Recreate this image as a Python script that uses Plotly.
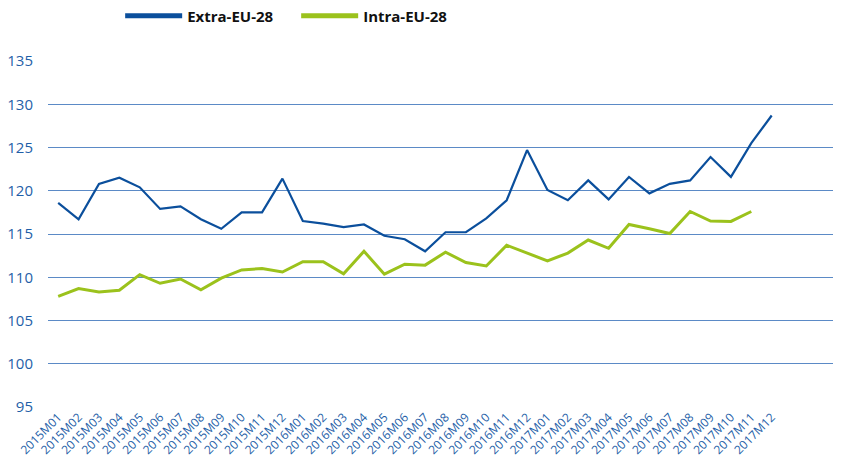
import plotly.graph_objects as go

months = [f"{y}M{m:02d}" for y in (2015, 2016, 2017) for m in range(1, 13)]

extra_eu = [118.6, 116.7, 120.8, 121.5, 120.4, 117.9, 118.2, 116.7, 115.6, 117.5,
            117.5, 121.4, 116.5, 116.2, 115.8, 116.1, 114.8, 114.4, 113.0, 115.2,
            115.2, 116.8, 118.9, 124.7, 120.1, 118.9, 121.2, 119.0, 121.6, 119.7,
            120.8, 121.2, 123.9, 121.6, 125.5, 128.7]

intra_eu = [107.8, 108.7, 108.3, 108.5, 110.3, 109.3, 109.8, 108.55, 109.9, 110.85,
            111.0, 110.6, 111.8, 111.8, 110.4, 113.0, 110.35, 111.5, 111.4, 112.9,
            111.7, 111.3, 113.7, 112.8, 111.9, 112.8, 114.3, 113.35, 116.1, 115.6,
            115.05, 117.6, 116.5, 116.45, 117.6]

blue = "#0b4f9c"
green = "#9bc21c"

fig = go.Figure()
fig.add_trace(go.Scatter(x=months, y=extra_eu, mode="lines", showlegend=False,
                         line=dict(color=blue, width=2.2)))
fig.add_trace(go.Scatter(x=months[:len(intra_eu)], y=intra_eu, mode="lines", showlegend=False,
                         line=dict(color=green, width=3)))
# legend-only entries with thicker line samples
fig.add_trace(go.Scatter(x=[months[0]], y=[None], mode="lines", name="Extra-EU-28",
                         line=dict(color=blue, width=5)))
fig.add_trace(go.Scatter(x=[months[0]], y=[None], mode="lines", name="Intra-EU-28",
                         line=dict(color=green, width=5)))

# page body has an 8px margin, so the figure is drawn slightly smaller
fig.update_layout(
    width=833, height=452,
    margin=dict(l=40, r=0, t=53, b=53, autoexpand=False),
    plot_bgcolor="white", paper_bgcolor="white",
    font=dict(family="Open Sans, Noto Sans, sans-serif", color="#1f5fa8"),
    legend=dict(orientation="h", x=0.091, xanchor="left", y=1.13, yanchor="middle",
                itemwidth=57, tracegroupgap=0, entrywidth=104, entrywidthmode="pixels",
                font=dict(size=15, color="#111111", family="Open Sans, sans-serif", weight="bold")),
    showlegend=True,
)
fig.update_xaxes(type="category", range=[-0.5, 38.4], tickangle=-45,
                 tickfont=dict(size=12, color="#1f5fa8"), showgrid=False,
                 ticks="", showline=False, automargin=False)
fig.update_yaxes(range=[95, 135], dtick=5, tickfont=dict(size=15, color="#1f5fa8"),
                 gridcolor="#5b8ac6", gridwidth=1.3, zeroline=False, ticks="",
                 ticklabelstandoff=14, automargin=False)

fig.write_html("out.html")
